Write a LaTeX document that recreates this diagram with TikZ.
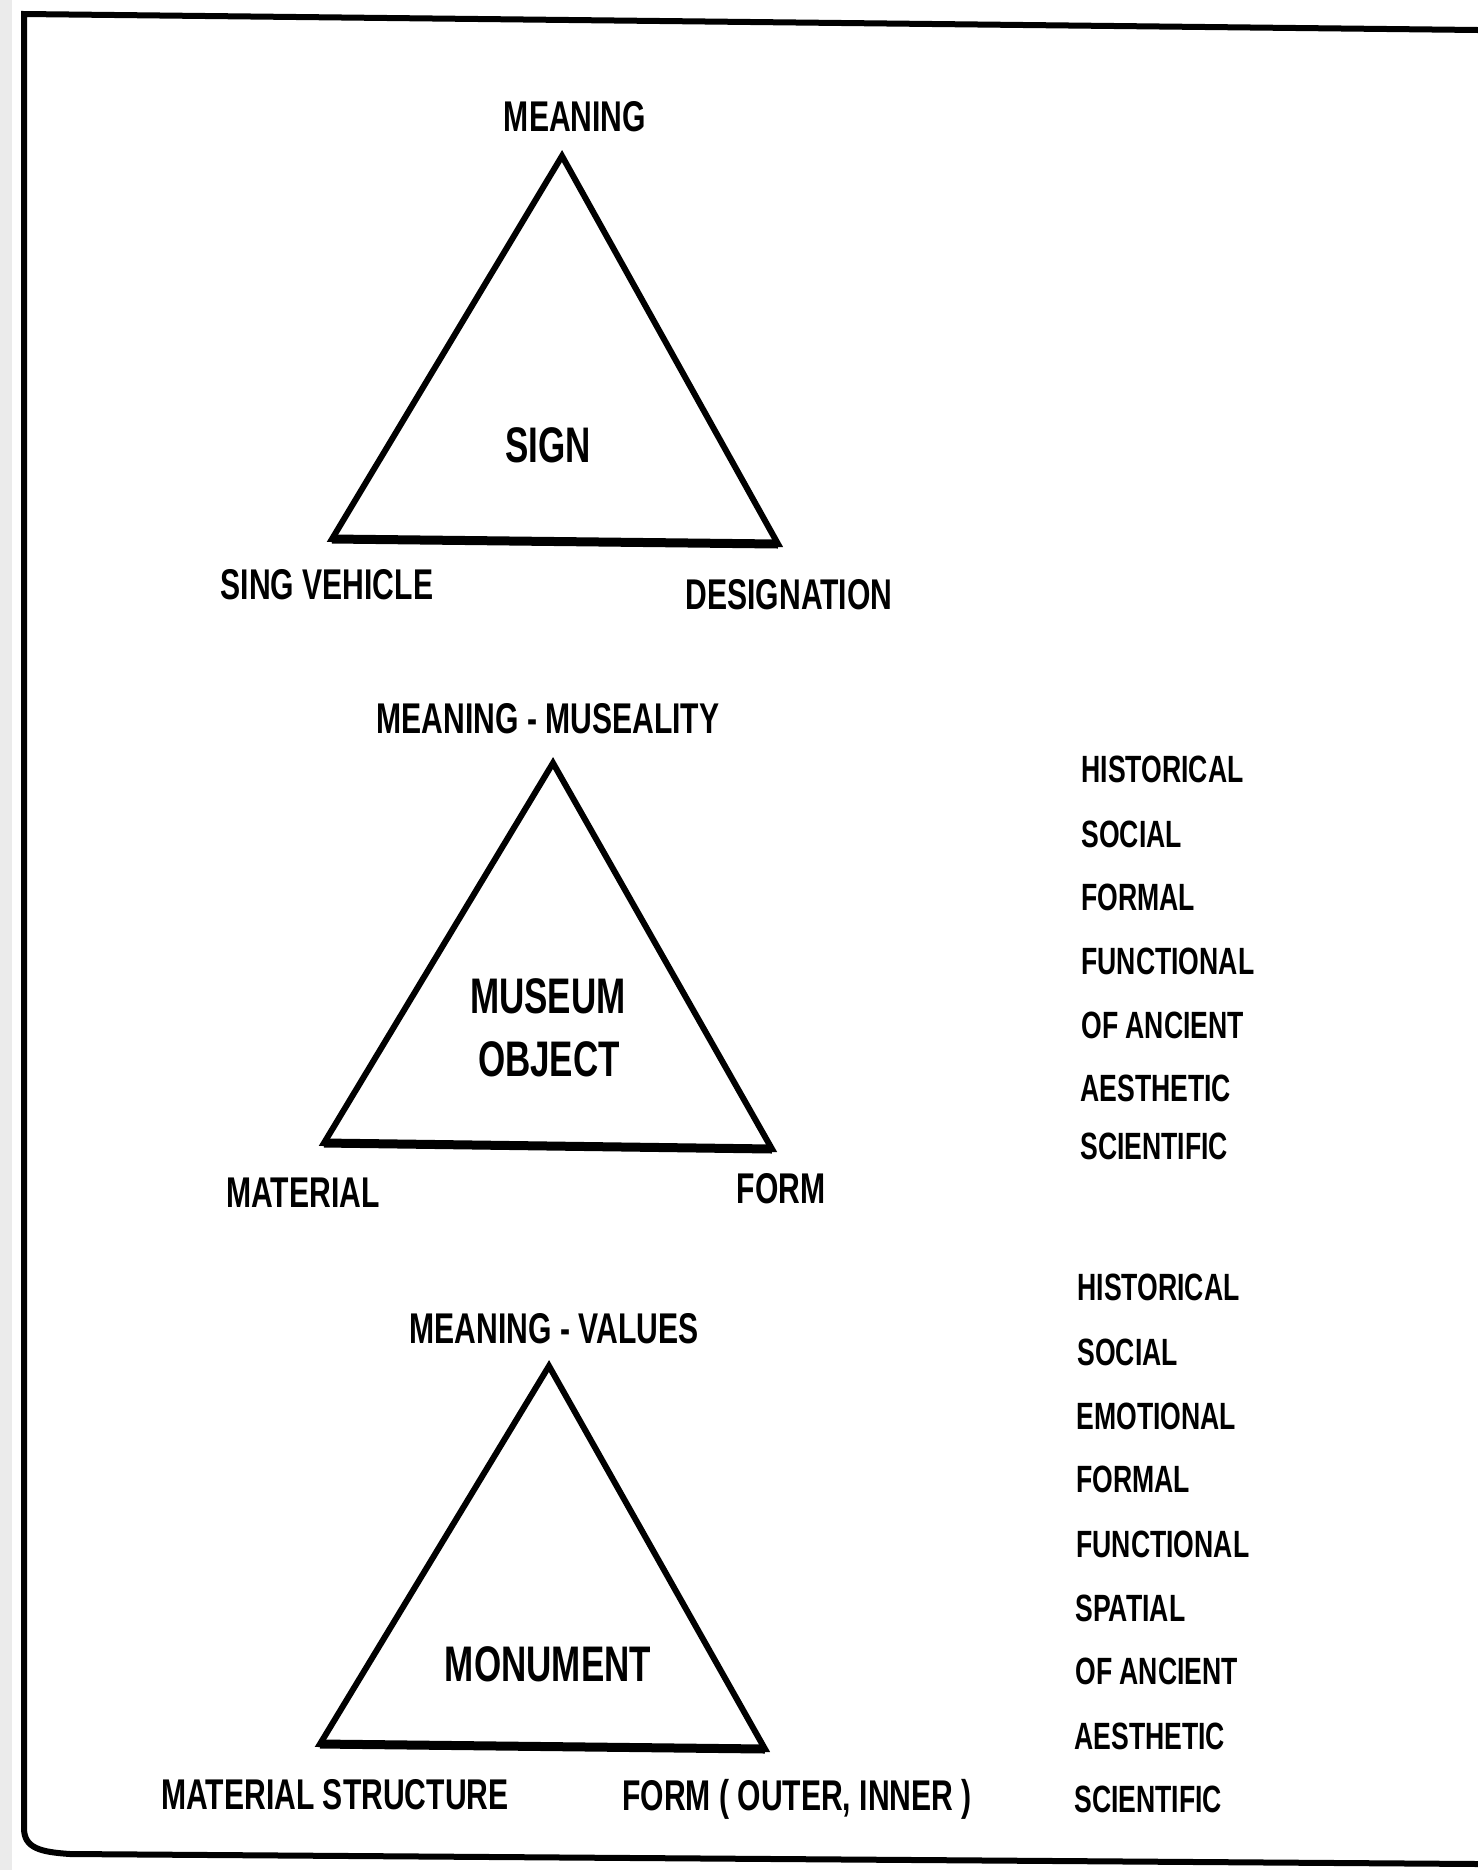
\documentclass[tikz,border=0pt]{standalone}
\usepackage{fontspec}
\setmainfont{Liberation Sans}[FakeStretch=0.7]
\begin{document}
\begin{tikzpicture}[x=0.5pt,y=-0.5pt,
  lbl/.style={font=\bfseries\fontsize{21.5}{24}\selectfont, inner sep=0pt},
  ctr/.style={font=\bfseries\fontsize{25}{29}\selectfont, inner sep=0pt, align=center},
  lst/.style={font=\bfseries\fontsize{19}{22}\selectfont, inner sep=0pt, anchor=west},
  tri/.style={line width=3pt, line join=miter},
  base/.style={line width=4.5pt},
  frame/.style={line width=3pt, line cap=round}]
\useasboundingbox (0,0) rectangle (1478,1870);
\fill[black!8] (0,0) rectangle (12,1870);
% frame
\coordinate (ftl) at (24,14);
\coordinate (ftr) at (1478,30);
\coordinate (fbl) at (24,1828);
\coordinate (fbr) at (1478,1864);
\draw[frame] (ftr) -- (ftl) -- (fbl) .. controls (24,1848) and (40,1852) .. (70,1854) -- (fbr);

% triangle 1
\coordinate (a1) at (562,156);
\coordinate (b1) at (332,539);
\coordinate (c1) at (778,544);
\draw[tri] (a1) -- (b1) -- (c1) -- cycle;
\draw[base] (b1) -- (c1);
\node[lbl] (m1) at (575,117) {MEANING};
\node[ctr] (s1) at (548,445) {SIGN};
\node[lbl] (v1) at (327,585) {SING VEHICLE};
\node[lbl] (d1) at (789,595) {DESIGNATION};

% triangle 2
\coordinate (a2) at (553,763);
\coordinate (b2) at (324,1143);
\coordinate (c2) at (772,1149);
\draw[tri] (a2) -- (b2) -- (c2) -- cycle;
\draw[base] (b2) -- (c2);
\node[lbl] (m2) at (548,719) {MEANING - MUSEALITY};
\node[ctr] (s2a) at (548,996) {MUSEUM};
\node[ctr] (s2b) at (549,1059) {OBJECT};
\node[lbl] (v2) at (303,1193) {MATERIAL};
\node[lbl] (d2) at (781,1189) {FORM};
\node[lst] (l21) at (1081,769) {HISTORICAL};
\node[lst] (l22) at (1081,834) {SOCIAL};
\node[lst] (l23) at (1081,897) {FORMAL};
\node[lst] (l24) at (1081,961) {FUNCTIONAL};
\node[lst] (l25) at (1081,1025) {OF ANCIENT};
\node[lst] (l26) at (1080,1088) {AESTHETIC};
\node[lst] (l27) at (1080,1146) {SCIENTIFIC};

% triangle 3
\coordinate (a3) at (549,1366);
\coordinate (b3) at (320,1744);
\coordinate (c3) at (765,1749);
\draw[tri] (a3) -- (b3) -- (c3) -- cycle;
\draw[base] (b3) -- (c3);
\node[lbl] (m3) at (554,1329) {MEANING - VALUES};
\node[ctr] (s3) at (548,1664) {MONUMENT};
\node[lbl] (v3) at (335,1795) {MATERIAL STRUCTURE};
\node[lbl] (d3) at (797,1799) {FORM ( OUTER, INNER )};
\node[lst] (l31) at (1077,1287) {HISTORICAL};
\node[lst] (l32) at (1077,1352) {SOCIAL};
\node[lst] (l33) at (1076,1416) {EMOTIONAL};
\node[lst] (l34) at (1076,1479) {FORMAL};
\node[lst] (l35) at (1076,1544) {FUNCTIONAL};
\node[lst] (l36) at (1075,1608) {SPATIAL};
\node[lst] (l37) at (1075,1671) {OF ANCIENT};
\node[lst] (l38) at (1074,1736) {AESTHETIC};
\node[lst] (l39) at (1074,1799) {SCIENTIFIC};
\end{tikzpicture}
\end{document}
